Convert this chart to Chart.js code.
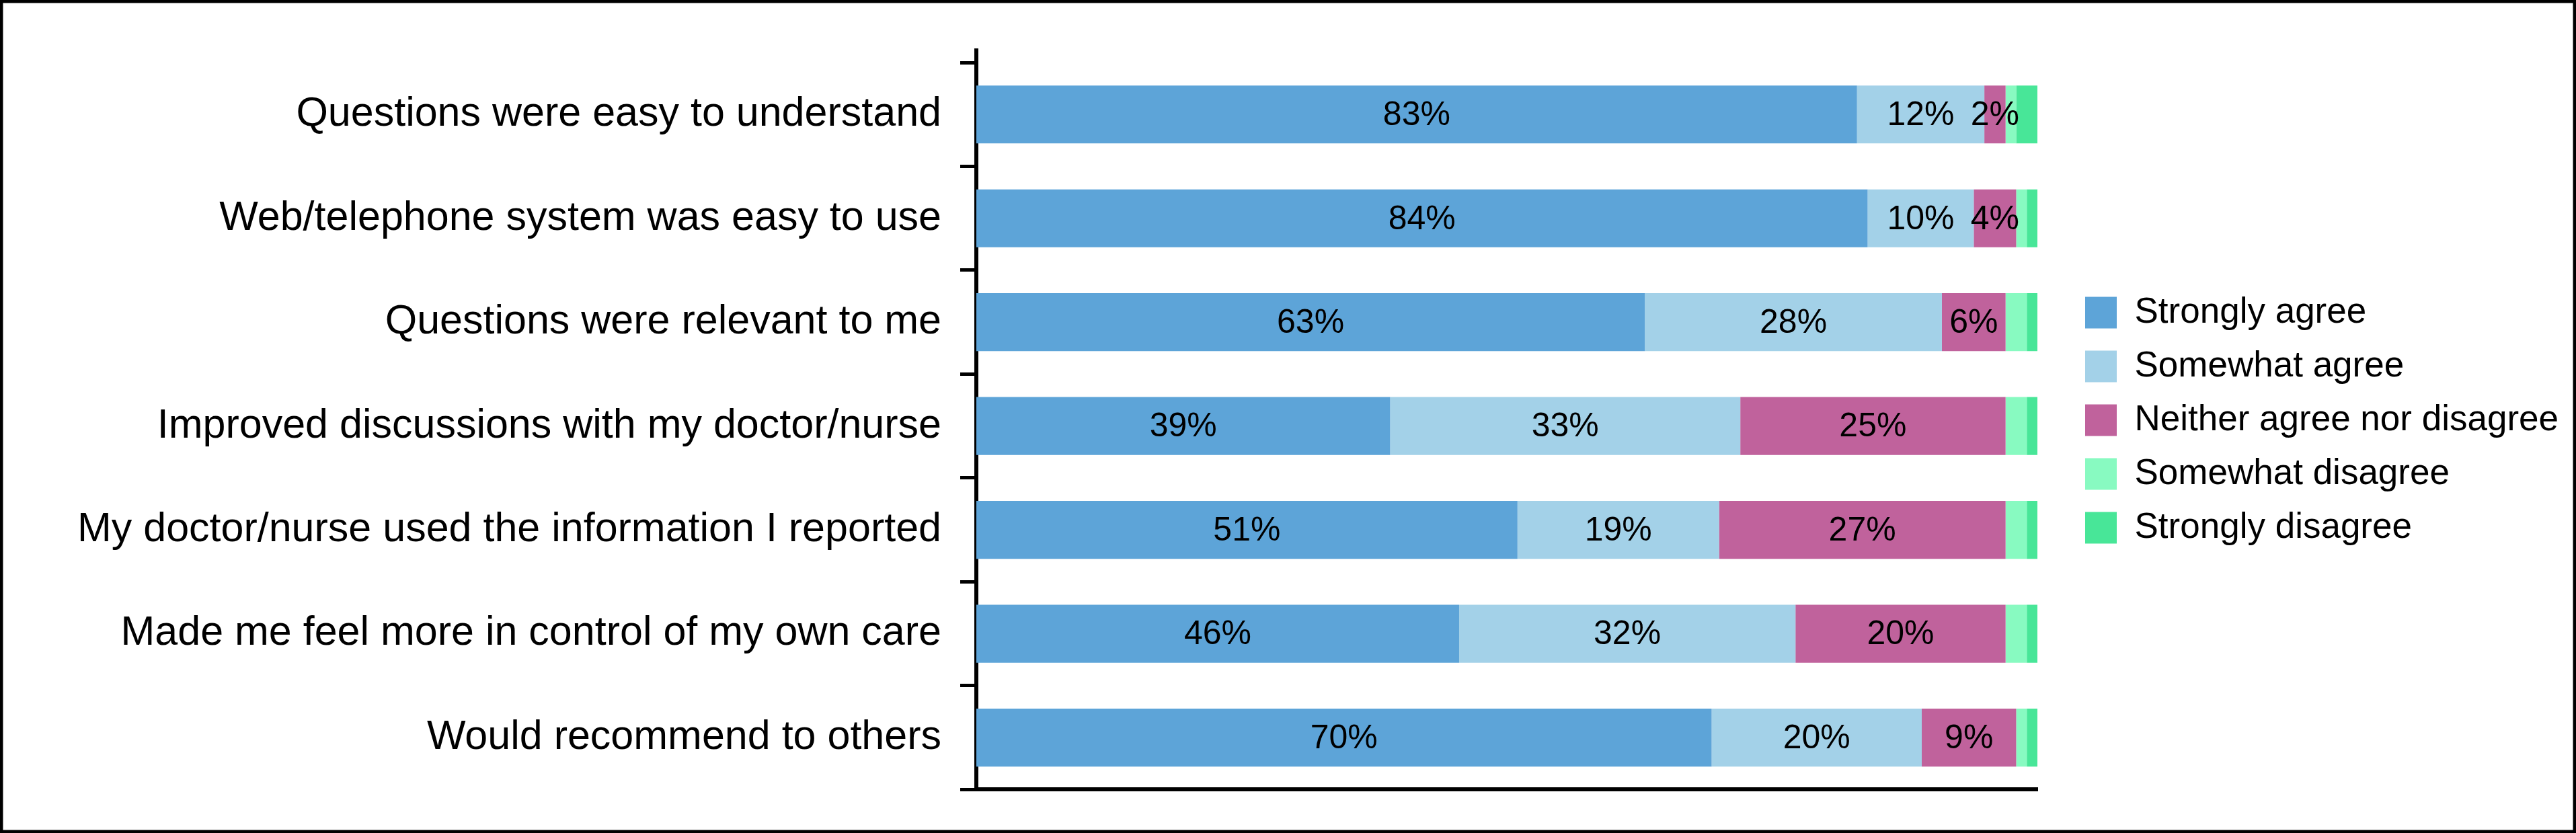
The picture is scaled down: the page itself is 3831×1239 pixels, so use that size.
<!DOCTYPE html>
<html>
<head>
<meta charset="utf-8">
<script src="https://cdn.jsdelivr.net/npm/chart.js@4/dist/chart.umd.min.js"></script>
<style>
  html, body { margin: 0; padding: 0; background: #ffffff; }
  #wrap { width: 3831px; height: 1239px; position: relative; }
  canvas { display: block; }
</style>
</head>
<body>
<div id="wrap"><canvas id="c" width="3831" height="1239"></canvas></div>
<script>
// ---- data ----
const categories = [
  "Questions were easy to understand",
  "Web/telephone system was easy to use",
  "Questions were relevant to me",
  "Improved discussions with my doctor/nurse",
  "My doctor/nurse used the information I reported",
  "Made me feel more in control of my own care",
  "Would recommend to others"
];
const seriesNames = ["Strongly agree", "Somewhat agree", "Neither agree nor disagree", "Somewhat disagree", "Strongly disagree"];
const stronglyAgree    = [83, 84, 63, 39, 51, 45.5, 69.3];
const somewhatAgree    = [12, 10, 28, 33, 19, 31.7, 19.8];
const neitherAgree     = [2, 4, 6, 25, 27, 19.8, 8.9];
const somewhatDisagree = [1, 1, 2, 2, 2, 2, 1];
const stronglyDisagree = [2, 1, 1, 1, 1, 1, 1];
// printed labels on the bars
const stronglyAgreeLabels = ["83%", "84%", "63%", "39%", "51%", "46%", "70%"];
const somewhatAgreeLabels = ["12%", "10%", "28%", "33%", "19%", "32%", "20%"];
const neitherAgreeLabels  = ["2%", "4%", "6%", "25%", "27%", "20%", "9%"];
const xTickValues = [0, 100];

// ---- styles ----
const FONT = "'Liberation Sans', Arial, Helvetica, sans-serif";
const colors = ["#5DA4D8", "#A3D1E8", "#C0629C", "#88FAC1", "#48E698"];
const seriesValues = [stronglyAgree, somewhatAgree, neitherAgree, somewhatDisagree, stronglyDisagree];
const seriesLabels = [stronglyAgreeLabels, somewhatAgreeLabels, neitherAgreeLabels, null, null];

Chart.defaults.color = "#000";
Chart.defaults.font.family = FONT;

const datasets = seriesNames.map((name, i) => ({
  label: name,
  data: seriesValues[i],
  backgroundColor: colors[i],
  borderWidth: 0,
  barPercentage: 0.558,
  categoryPercentage: 1.0
}));

const segmentLabelPlugin = {
  id: 'segmentLabels',
  afterDatasetsDraw(chart) {
    const ctx = chart.ctx;
    ctx.save();
    ctx.font = "50px " + FONT;
    ctx.fillStyle = "#000";
    ctx.textAlign = "center";
    ctx.textBaseline = "middle";
    chart.data.datasets.forEach((ds, i) => {
      const texts = seriesLabels[i];
      if (!texts) return;
      const meta = chart.getDatasetMeta(i);
      meta.data.forEach((bar, j) => {
        const t = texts[j];
        if (!t) return;
        const p = bar.getProps(['x', 'y', 'base'], true);
        ctx.fillText(t, (p.x + p.base) / 2, p.y + 2);
      });
    });
    ctx.restore();
  }
};

const framePlugin = {
  id: 'frame',
  afterLayout(chart) {
    const lg = chart.legend;
    if (lg) {
      lg.left += 44;
      lg.right = chart.width - 5;
      lg.width = lg.right - lg.left;
      lg.top -= 20;
    }
  },
  afterDraw(chart) {
    const ctx = chart.ctx;
    const a = chart.chartArea;
    ctx.save();
    // y-axis line extends slightly above the first tick
    ctx.strokeStyle = "#000";
    ctx.lineWidth = 6;
    ctx.beginPath();
    ctx.moveTo(a.left, a.top - 21);
    ctx.lineTo(a.left, a.top + 2);
    ctx.stroke();
    // outer frame
    ctx.lineWidth = 9;
    ctx.strokeRect(0, 0, chart.width, chart.height);
    ctx.restore();
  }
};

new Chart(document.getElementById('c'), {
  type: 'bar',
  data: { labels: categories, datasets },
  options: {
    indexAxis: 'y',
    responsive: false,
    animation: false,
    events: [],
    layout: { padding: { left: 0, top: 93, bottom: 62, right: 101 } },
    scales: {
      x: {
        stacked: true,
        min: xTickValues[0],
        max: xTickValues[1],
        grid: { display: false, drawTicks: false },
        ticks: { display: false },
        border: { display: true, color: "#000", width: 6 }
      },
      y: {
        stacked: true,
        z: 1,
        offset: true,
        afterFit(scale) { scale.width = 1452; },
        grid: {
          display: true,
          offset: true,
          drawOnChartArea: false,
          drawTicks: true,
          tickLength: 24,
          tickWidth: 5,
          lineWidth: 5,
          color: "#000",
          tickColor: "#000"
        },
        border: { display: true, color: "#000", width: 6 },
        ticks: {
          padding: 28,
          color: "#000",
          font: { size: 61, family: FONT }
        }
      }
    },
    plugins: {
      legend: {
        position: 'right',
        align: 'center',
        maxWidth: 700,
        labels: {
          boxWidth: 47,
          boxHeight: 47,
          padding: 27,
          color: "#000",
          font: { size: 53, family: FONT }
        }
      },
      tooltip: { enabled: false }
    }
  },
  plugins: [segmentLabelPlugin, framePlugin]
});
</script>
</body>
</html>
